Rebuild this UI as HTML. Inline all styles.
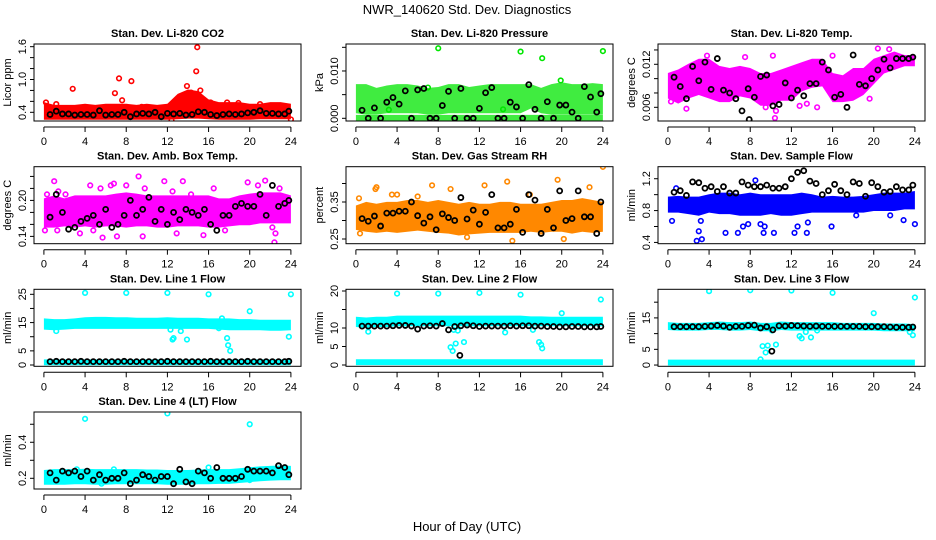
<!DOCTYPE html>
<html><head><meta charset="utf-8"><style>
body{margin:0;background:#fff}
svg{display:block;font-family:"Liberation Sans",sans-serif}
</style></head><body>
<svg id="chart" width="936" height="540" viewBox="0 0 936 540" xmlns="http://www.w3.org/2000/svg">
<rect width="936" height="540" fill="#fff"/>
<text x="467" y="14" font-size="13" text-anchor="middle">NWR_140620  Std. Dev. Diagnostics</text>
<text x="467" y="531" font-size="13" text-anchor="middle">Hour of Day (UTC)</text>
</svg>
<script>
const HOURS = [0,1,2,3,4,5,6,7,8,9,10,11,12,13,14,15,16,17,18,19,20,21,22,23,24];
const FLAT = [0,24];
const BX = [0.6,1.2,1.8,2.4,3.0,3.6,4.2,4.8,5.4,6.0,6.6,7.2,7.8,8.4,9.0,9.6,10.2,10.8,11.4,12.0,12.6,13.2,13.8,14.4,15.0,15.6,16.2,16.8,17.4,18.0,18.6,19.2,19.8,20.4,21.0,21.6,22.2,22.8,23.4,23.8];
const XTICKS = [0,4,8,12,16,20,24];

const co2Lo = [0.30,0.30,0.30,0.30,0.30,0.30,0.30,0.30,0.30,0.30,0.30,0.30,0.30,0.31,0.32,0.32,0.31,0.30,0.30,0.30,0.30,0.31,0.31,0.31,0.31];
const co2Hi = [0.55,0.50,0.50,0.50,0.52,0.50,0.52,0.52,0.52,0.50,0.52,0.50,0.52,0.70,0.78,0.75,0.60,0.55,0.55,0.55,0.52,0.52,0.55,0.55,0.52];
const co2Out = [[0.2,0.58],[1.2,0.55],[2.8,0.83],[6.9,0.75],[7.3,1.02],[7.6,0.62],[8.5,0.97],[9.5,0.5],[13.9,0.88],[14.8,1.15],[14.9,1.59],[15.2,0.8],[14.3,0.76],[16.2,0.58],[17.8,0.58],[18.9,0.57],[21,0.55],[24,0.27],[12.4,0.25],[4.5,0.48]];
const co2Black = [0.36,0.42,0.37,0.37,0.35,0.36,0.36,0.35,0.43,0.35,0.36,0.36,0.40,0.32,0.37,0.38,0.37,0.40,0.32,0.38,0.37,0.38,0.35,0.36,0.41,0.40,0.36,0.34,0.36,0.37,0.36,0.37,0.39,0.40,0.43,0.38,0.38,0.37,0.37,0.42];

const presLo = [0.0015,0.0012,0.0012,0.0015,0.0015,0.0015,0.0015,0.0012,0.0012,0.0015,0.0015,0.0015,0.0015,0.0015,0.0015,0.0015,0.0015,0.0025,0.0015,0.0012,0.0012,0.0012,0.0012,0.0012,0.0012];
const presHi = [0.0068,0.0068,0.0060,0.0065,0.0068,0.0068,0.0065,0.0060,0.0062,0.0068,0.0068,0.0062,0.0065,0.0068,0.0068,0.0068,0.0068,0.0068,0.0060,0.0068,0.0072,0.0068,0.0068,0.0070,0.0068];
const presBaseLo = [-0.0003,-0.0003];
const presBaseHi = [0.0003,0.0003];
const presOut = [[8,0.0148],[16,0.0141],[18.1,0.0127],[24,0.0142],[19.9,0.008],[7,0.0065],[3.2,0.0018],[14.3,0.0019]];
const presBlack = [0.0017,0,0.0022,0,0.0034,0.0044,0.003,0.0058,0,0.006,0.0063,0,0,0.0027,0.0057,0,0.0063,0,0,0.0021,0.0054,0.0065,0,0,0.0034,0.0024,0,0.0071,0.0019,0,0.0035,0,0.0028,0.0028,0.0013,0,0.0067,0.0045,0.0013,0.0052];

const tmpLo = [0.0075,0.0068,0.0075,0.0080,0.0075,0.0070,0.0070,0.0078,0.0075,0.0065,0.0065,0.0072,0.0072,0.0085,0.0090,0.0092,0.0070,0.0070,0.0072,0.0080,0.0095,0.0110,0.0115,0.0120,0.0120];
const tmpHi = [0.0105,0.0110,0.0118,0.0125,0.0125,0.0115,0.0112,0.0115,0.0112,0.0105,0.0105,0.0110,0.0115,0.0120,0.0125,0.0125,0.0105,0.0102,0.0112,0.0112,0.0125,0.0130,0.0135,0.0130,0.0130];
const tmpOut = [[10.2,0.0132],[10.4,0.0045],[10.5,0.0055],[20.4,0.0142],[21.5,0.0141],[19.6,0.0072],[1.8,0.0058],[12.8,0.0062],[13.5,0.0065],[7.5,0.013],[0.3,0.0068],[16,0.0132],[14.5,0.006],[9.5,0.006],[3.8,0.0132]];
const tmpBlack = [0.0102,0.0089,0.0072,0.0117,0.0097,0.0123,0.0085,0.0128,0.0084,0.0080,0.0072,0.0055,0.0086,0.0074,0.0103,0.0105,0.0062,0.0064,0.0094,0.0073,0.0084,0.0076,0.0093,0.0093,0.0123,0.0112,0.0074,0.0078,0.0060,0.0133,0.0092,0.0090,0.0100,0.0112,0.0127,0.0115,0.0128,0.0128,0.0128,0.0130];
const tmpBlackExtra = [[7.9,0.0043]];

const ambLo = [0.158,0.158,0.160,0.158,0.160,0.158,0.160,0.160,0.158,0.160,0.160,0.158,0.158,0.160,0.160,0.160,0.158,0.158,0.160,0.162,0.162,0.165,0.165,0.165,0.165];
const ambHi = [0.200,0.205,0.200,0.205,0.205,0.205,0.205,0.208,0.210,0.208,0.205,0.205,0.205,0.205,0.205,0.205,0.205,0.200,0.200,0.205,0.208,0.210,0.210,0.210,0.205];
const ambOut = [[1,0.232],[1.4,0.215],[0.3,0.21],[2.1,0.21],[3.3,0.2],[4.5,0.225],[5.5,0.22],[6.5,0.225],[6.8,0.228],[8,0.225],[9.2,0.24],[9.8,0.22],[11.7,0.232],[12.5,0.215],[13.5,0.232],[14.3,0.21],[16.5,0.22],[19.8,0.23],[20.8,0.225],[21.5,0.233],[22.9,0.22],[1.3,0.15],[3.5,0.145],[5.7,0.138],[7.1,0.14],[9.6,0.14],[12.9,0.145],[15.5,0.142],[22.5,0.145],[22.4,0.13],[17.6,0.15],[22.2,0.155],[0.1,0.15],[4.8,0.15]];
const ambBlack = [0.172,0.21,0.18,0.152,0.155,0.165,0.17,0.175,0.16,0.185,0.155,0.16,0.175,0.20,0.175,0.185,0.205,0.165,0.185,0.16,0.18,0.168,0.185,0.18,0.175,0.185,0.16,0.15,0.175,0.175,0.19,0.195,0.19,0.19,0.21,0.175,0.225,0.19,0.195,0.2];

const rhLo = [0.280,0.275,0.272,0.275,0.272,0.275,0.278,0.275,0.272,0.270,0.265,0.268,0.270,0.272,0.272,0.272,0.272,0.275,0.272,0.275,0.275,0.270,0.275,0.272,0.275];
const rhHi = [0.335,0.345,0.340,0.345,0.345,0.350,0.350,0.345,0.350,0.345,0.340,0.345,0.340,0.340,0.345,0.345,0.340,0.340,0.340,0.345,0.350,0.350,0.355,0.350,0.345];
const rhOut = [[0.3,0.36],[0.4,0.265],[1.9,0.385],[2,0.39],[4,0.37],[3.5,0.37],[7.4,0.395],[9.2,0.385],[12.5,0.395],[14.7,0.405],[16.9,0.37],[19.6,0.41],[22.7,0.39],[24,0.445],[15.2,0.245],[20.2,0.25],[10.8,0.255],[6,0.365],[18,0.27]];
const rhBlack = [0.305,0.298,0.312,0.285,0.32,0.32,0.325,0.325,0.35,0.313,0.293,0.31,0.275,0.318,0.308,0.30,0.362,0.304,0.328,0.29,0.322,0.37,0.28,0.28,0.29,0.33,0.268,0.37,0.355,0.265,0.33,0.28,0.38,0.3,0.305,0.38,0.31,0.31,0.265,0.35];

const sfLo = [0.80,0.80,0.78,0.76,0.80,0.78,0.78,0.76,0.76,0.76,0.78,0.76,0.76,0.78,0.80,0.80,0.80,0.80,0.80,0.80,0.82,0.82,0.82,0.84,0.84];
const sfHi = [0.95,0.96,0.95,0.95,0.98,1.00,1.00,0.98,1.00,0.98,0.98,0.98,0.98,1.00,0.98,0.95,0.96,0.95,0.95,0.96,0.98,1.00,1.00,1.00,1.02];
const sfOut = [[0.4,0.67],[2.8,0.42],[3,0.54],[3.3,0.44],[3.2,0.67],[5.6,0.52],[6.8,0.52],[7.3,0.6],[7.8,0.63],[9,0.63],[9.3,0.52],[9.4,0.6],[10.3,0.52],[12.3,0.52],[12.6,0.6],[13.5,0.52],[13.6,0.65],[15.9,0.6],[22.9,0.68],[24,0.63],[8.5,1.18],[0.8,1.08],[21.6,0.74],[18.3,0.74]];
const sfBlack = [1.03,1.05,0.99,1.16,1.15,1.08,1.10,1.04,1.10,1.02,1.02,1.16,1.12,1.10,1.10,1.12,1.08,1.08,1.10,1.20,1.28,1.30,1.17,1.14,1.00,1.05,1.13,1.05,1.00,1.16,1.14,0.98,1.15,1.10,1.03,1.04,1.10,1.06,1.06,1.12];

const l1Lo = [13.2,13.0,13.2,13.5,13.5,13.5,13.5,13.5,13.5,13.5,13.5,13.5,13.5,13.5,13.5,13.5,13.5,13.2,13.0,13.0,13.0,13.0,12.8,12.8,13.0];
const l1Hi = [15.8,15.5,15.5,15.8,16.2,16.3,16.3,16.2,16.2,16.0,16.0,16.0,16.2,16.0,16.0,16.0,15.8,15.8,15.8,15.5,15.5,15.3,15.3,15.3,15.3];
const l1BaseLo = [0.6,0.6];
const l1BaseHi = [1.3,1.3];
const l1Out = [[4,25.5],[8,25.5],[12,25.5],[16,25],[24,25],[20,19],[1.2,12],[12.6,9.5],[12.5,9],[13.9,9],[13.3,12],[17.8,9.5],[17.9,7],[18.1,5],[23.8,10],[12.3,12.5],[17,13],[17.3,16.5]];
const l1Black = [1.2,1.3,1.2,1.2,1.2,1.3,1.2,1.2,1.2,1.2,1.2,1.2,1.3,1.2,1.2,1.2,1.2,1.2,1.2,1.3,1.2,1.2,1.2,1.2,1.2,1.2,1.3,1.2,1.2,1.2,1.2,1.2,1.3,1.2,1.2,1.2,1.2,1.2,1.2,1.3];

const l2Lo = [10.8,10.6,10.8,10.8,11.0,11.0,11.0,11.0,11.0,11.0,11.0,11.0,11.0,11.0,11.0,11.0,11.0,11.0,11.0,11.0,11.0,11.0,11.0,11.0,11.0];
const l2Hi = [12.5,12.3,12.5,12.5,12.8,12.8,12.8,12.8,12.8,12.8,12.8,12.8,12.8,12.8,12.8,12.8,12.8,12.6,12.6,12.5,12.5,12.5,12.5,12.5,12.5];
const l2BaseLo = [0.5,0.5];
const l2BaseHi = [1.0,1.0];
const l2Out = [[4,19.3],[8,19.3],[12,19.5],[16,19],[23.8,17.7],[20,14],[1.2,9],[9.2,4.8],[9.4,3.8],[9.7,5.8],[10.5,6.2],[14.5,8.8],[17.8,6.2],[18,5.5],[18.1,4.5],[9.5,9.5],[9.9,9.3],[17.2,9.5]];
const l2Black = [10.5,10.5,10.5,10.5,10.5,10.6,10.7,10.7,10.5,9.7,10.5,10.6,10.5,11.2,9.5,10.4,10.6,10.8,10.6,10.4,10.5,10.5,10.5,10.5,10.6,10.5,10.6,10.6,10.5,10.5,10.4,10.4,10.3,10.3,10.4,10.4,10.3,10.3,10.3,10.4];
const l2BlackExtra = [[10.1,2.6]];

const l3Lo = [11.8,11.6,11.6,11.6,11.8,11.8,11.6,11.6,11.8,11.4,11.4,11.8,11.6,11.6,11.6,11.6,11.6,11.6,11.6,11.6,11.6,11.4,11.4,11.4,11.4];
const l3Hi = [13.0,12.8,12.8,12.8,13.0,13.2,13.0,13.0,13.2,12.8,12.8,13.2,13.0,13.0,13.0,13.0,13.0,12.8,12.8,12.8,12.8,12.6,12.6,12.6,12.4];
const l3BaseLo = [0.5,0.5];
const l3BaseHi = [1.1,1.1];
const l3Out = [[4,23.5],[8,23.8],[12,23.7],[16,23],[24,21.5],[20,16.5],[9.2,6],[9.5,4],[9.7,6.2],[10.5,6.5],[12.8,9.2],[13,8.5],[13.4,10.5],[13.9,8.8],[14.5,11],[23.5,10.5],[23.8,9.5],[10.1,11],[9,1.8]];
const l3Black = [12.2,12.2,12.2,12.2,12.2,12.3,12.4,12.6,12.4,12.0,12.3,12.3,12.6,12.7,11.8,12.2,11.2,12.5,12.4,12.6,12.5,12.4,12.3,12.4,12.3,12.3,12.3,12.3,12.3,12.3,12.3,12.2,12.2,12.2,12.2,12.1,12.0,12.0,12.0,12.1];
const l3BlackExtra = [[10.1,4.4]];

const l4Lo = [0.175,0.175,0.175,0.178,0.178,0.175,0.175,0.178,0.178,0.178,0.178,0.178,0.175,0.175,0.175,0.178,0.178,0.180,0.180,0.185,0.190,0.195,0.198,0.200,0.200];
const l4Hi = [0.235,0.240,0.240,0.240,0.242,0.240,0.240,0.240,0.240,0.240,0.238,0.238,0.235,0.235,0.235,0.238,0.240,0.240,0.240,0.245,0.250,0.255,0.258,0.260,0.258];
const l4Out = [[4,0.53],[12,0.56],[20,0.5],[20,0.19],[5.6,0.17],[3.2,0.25],[6.8,0.25],[16,0.26]];
const l4Black = [0.23,0.19,0.24,0.23,0.24,0.21,0.24,0.19,0.22,0.19,0.2,0.2,0.23,0.17,0.19,0.22,0.21,0.19,0.21,0.21,0.17,0.25,0.18,0.17,0.24,0.23,0.2,0.26,0.2,0.2,0.2,0.21,0.25,0.24,0.24,0.24,0.23,0.27,0.26,0.22];

const panels = [
 {name:'co2',title:'Stan. Dev. Li-820 CO2',ylab:'Licor ppm',col:0,row:0,dom:[0.241,1.649],ticks:[0.4,0.6,0.8,1.0,1.2,1.4,1.6],labels:['0.4','','','1.0','','','1.6'],color:'#ff0000',op:1,bands:[[HOURS,co2Lo,co2Hi]],out:co2Out,black:co2Black,extra:[]},
 {name:'pressure',title:'Stan. Dev. Li-820 Pressure',ylab:'kPa',col:1,row:0,dom:[-0.00057,0.0157],ticks:[0,0.005,0.010,0.015],labels:['0.000','','0.010',''],color:'#00e600',op:0.75,bands:[[HOURS,presLo,presHi],[FLAT,presBaseLo,presBaseHi]],out:presOut,black:presBlack,extra:[]},
 {name:'li820-temp',title:'Stan. Dev. Li-820 Temp.',ylab:'degrees C',col:2,row:0,dom:[0.00409,0.01483],ticks:[0.006,0.008,0.010,0.012,0.014],labels:['0.006','','','0.012',''],color:'#ff00ff',op:1,bands:[[HOURS,tmpLo,tmpHi]],out:tmpOut,black:tmpBlack,extra:tmpBlackExtra},
 {name:'amb-box-temp',title:'Stan. Dev. Amb. Box Temp.',ylab:'degrees C',col:0,row:1,dom:[0.1278,0.2562],ticks:[0.14,0.16,0.18,0.20,0.22,0.24],labels:['0.14','','','0.20','',''],color:'#ff00ff',op:1,bands:[[HOURS,ambLo,ambHi]],out:ambOut,black:ambBlack,extra:[]},
 {name:'gas-stream-rh',title:'Stan. Dev. Gas Stream RH',ylab:'percent',col:1,row:1,dom:[0.2373,0.4454],ticks:[0.25,0.30,0.35,0.40],labels:['0.25','','0.35',''],color:'#ff8800',op:1,bands:[[HOURS,rhLo,rhHi]],out:rhOut,black:rhBlack,extra:[]},
 {name:'sample-flow',title:'Stan. Dev. Sample Flow',ylab:'ml/min',col:2,row:1,dom:[0.384,1.351],ticks:[0.4,0.6,0.8,1.0,1.2],labels:['0.4','','0.8','','1.2'],color:'#0000ff',op:1,bands:[[HOURS,sfLo,sfHi]],out:sfOut,black:sfBlack,extra:[]},
 {name:'line1-flow',title:'Stan. Dev. Line 1 Flow',ylab:'ml/min',col:0,row:2,dom:[-0.46,26.77],ticks:[0,5,10,15,20,25],labels:['0','5','','15','','25'],color:'#00ffff',op:1,bands:[[HOURS,l1Lo,l1Hi],[FLAT,l1BaseLo,l1BaseHi]],out:l1Out,black:l1Black,extra:[]},
 {name:'line2-flow',title:'Stan. Dev. Line 2 Flow',ylab:'ml/min',col:1,row:2,dom:[-0.35,20.46],ticks:[0,5,10,15,20],labels:['0','5','10','','20'],color:'#00ffff',op:1,bands:[[HOURS,l2Lo,l2Hi],[FLAT,l2BaseLo,l2BaseHi]],out:l2Out,black:l2Black,extra:l2BlackExtra},
 {name:'line3-flow',title:'Stan. Dev. Line 3 Flow',ylab:'ml/min',col:2,row:2,dom:[-0.4,24.1],ticks:[0,5,10,15,20],labels:['0','5','','15',''],color:'#00ffff',op:1,bands:[[HOURS,l3Lo,l3Hi],[FLAT,l3BaseLo,l3BaseHi]],out:l3Out,black:l3Black,extra:l3BlackExtra},
 {name:'line4-flow',title:'Stan. Dev. Line 4 (LT) Flow',ylab:'ml/min',col:0,row:3,dom:[0.1406,0.568],ticks:[0.2,0.3,0.4,0.5],labels:['0.2','','0.4',''],color:'#00ffff',op:1,bands:[[HOURS,l4Lo,l4Hi]],out:l4Out,black:l4Black,extra:[]}
];

const NS='http://www.w3.org/2000/svg';
const svg=document.getElementById('chart');
const COLX=[34,346,658], ROWY=[44,166.7,289.3,412], PW=267, PH=77;
function mk(tag,attrs,parent){const e=document.createElementNS(NS,tag);for(const k in attrs)e.setAttribute(k,attrs[k]);parent.appendChild(e);return e;}

panels.forEach(p=>{
  const L=COLX[p.col], T=ROWY[p.row], B=T+PH;
  const xs=v=>L+9.9+v*(247/24);
  const ys=v=>B-(v-p.dom[0])/(p.dom[1]-p.dom[0])*PH;
  const g=mk('g',{},svg);
  
  
  const clip=mk('clipPath',{id:'clip-'+p.name},g);
  mk('rect',{x:L,y:T,width:PW,height:PH},clip);
  const plot=mk('g',{'clip-path':'url(#clip-'+p.name+')'},g);
  p.bands.forEach((b,bi)=>{
    const [bx,lo,hi]=b;
    let pts=[];
    for(let i=0;i<bx.length;i++)pts.push(xs(bx[i])+','+(ys(hi[i])-2));
    for(let i=bx.length-1;i>=0;i--)pts.push(xs(bx[i])+','+(ys(lo[i])+2));
    const poly=mk('polygon',{points:pts.join(' '),fill:p.color,'fill-opacity':p.op,stroke:'none'},plot);
    
    
  });
  p.out.forEach(o=>{
    const c=mk('circle',{cx:xs(o[0]),cy:ys(o[1]),r:2.3,fill:'none',stroke:p.color,'stroke-width':1.6},plot);
    
    
  });
  p.black.forEach((v,i)=>{
    const c=mk('circle',{cx:xs(BX[i]),cy:ys(v),r:2.5,fill:'none',stroke:'#000','stroke-width':1.8},plot);
    
    
  });
  p.extra.forEach(o=>{
    const c=mk('circle',{cx:xs(o[0]),cy:ys(o[1]),r:2.5,fill:'none',stroke:'#000','stroke-width':1.8},plot);
    
    
  });
  const box=mk('rect',{x:L,y:T,width:PW,height:PH,fill:'none',stroke:'#000','stroke-width':1},g);
  
  
  const tt=mk('text',{x:L+PW/2,y:T-7,'font-size':11,'font-weight':'bold','text-anchor':'middle'},g);
  tt.textContent=p.title;
  
  
  const ax=B+6;
  const xa=mk('g',{stroke:'#000','stroke-width':1},g);
  
  
  mk('line',{x1:xs(0),x2:xs(24),y1:ax,y2:ax},xa);
  XTICKS.forEach(t=>{
    mk('line',{x1:xs(t),x2:xs(t),y1:ax,y2:ax+5},xa);
    const tx=mk('text',{x:xs(t),y:ax+18,'font-size':11,'text-anchor':'middle',stroke:'none',fill:'#000'},xa);
    tx.textContent=String(t);
  });
  const ya=mk('g',{stroke:'#000','stroke-width':1},g);
  
  
  mk('line',{x1:L,x2:L,y1:ys(p.ticks[0]),y2:ys(p.ticks[p.ticks.length-1])},ya);
  p.ticks.forEach((t,i)=>{
    const y=ys(t);
    mk('line',{x1:L-4,x2:L,y1:y,y2:y},ya);
    if(p.labels[i]){
      const tx=mk('text',{x:0,y:0,'font-size':11,'text-anchor':'middle',stroke:'none',fill:'#000',transform:'translate('+(L-8)+','+y+') rotate(-90)'},ya);
      tx.textContent=p.labels[i];
    }
  });
  const yl=mk('text',{x:0,y:0,'font-size':11,'text-anchor':'middle',transform:'translate('+(L-23)+','+(T+PH/2)+') rotate(-90)'},g);
  yl.textContent=p.ylab;
  
  
});
</script>
</body></html>
